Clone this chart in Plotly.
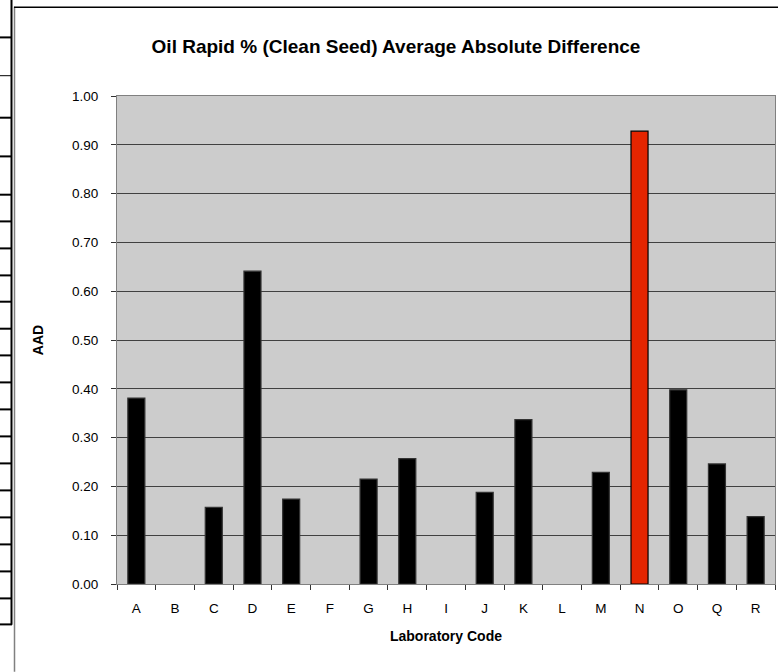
import plotly.graph_objects as go

# Laboratory codes and their average absolute difference
lab_codes = ["A", "B", "C", "D", "E", "F", "G", "H", "I", "J", "K", "L", "M", "N", "O", "Q", "R"]
aad_values = [0.381, 0.0, 0.157, 0.641, 0.174, 0.0, 0.215, 0.257, 0.0, 0.188, 0.337, 0.0, 0.229, 0.928, 0.398, 0.246, 0.138]
flagged_lab = "N"
y_ticks = [0.0, 0.1, 0.2, 0.3, 0.4, 0.5, 0.6, 0.7, 0.8, 0.9, 1.0]

W, H = 778, 672
PLOT_L, PLOT_R, PLOT_T, PLOT_B = 117, 775, 96.3, 584.3
FONT = "Arial, Liberation Sans, sans-serif"


def px_x(px):
    # pixel -> paper x
    return (px - PLOT_L) / (PLOT_R - PLOT_L)


def px_y(py):
    # pixel -> paper y
    return (PLOT_B - py) / (PLOT_B - PLOT_T)


bar_colors = ["#e52500" if c == flagged_lab else "#000000" for c in lab_codes]
line_colors = ["#000000" if c == flagged_lab else "#333333" for c in lab_codes]
line_widths = [0 if v == 0 else 1.2 for v in aad_values]

fig = go.Figure()
fig.add_trace(
    go.Bar(
        x=lab_codes,
        y=aad_values,
        marker=dict(color=bar_colors, line=dict(color=line_colors, width=line_widths)),
        showlegend=False,
    )
)

# worksheet table fragment on the far left and the chart frame
table_rows = [37.7, 76, 118, 156.7, 195, 221.7, 248.7, 275.7, 302, 329, 355.7,
              382.7, 409.7, 436.7, 463.7, 490.7, 517.7, 544.7, 571.7, 598.7, 624.7]
shapes = []
for ry in table_rows:
    shapes.append(dict(type="line", xref="paper", yref="paper",
                       x0=px_x(0), x1=px_x(12), y0=px_y(ry), y1=px_y(ry),
                       line=dict(color="black", width=1 if ry == 76 else 2)))
shapes.append(dict(type="line", xref="paper", yref="paper",
                   x0=px_x(11.5), x1=px_x(11.5), y0=px_y(0), y1=px_y(625),
                   line=dict(color="black", width=2)))
shapes.append(dict(type="line", xref="paper", yref="paper",
                   x0=px_x(14.5), x1=px_x(14.5), y0=px_y(7), y1=px_y(H),
                   line=dict(color="#808080", width=1.5)))
shapes.append(dict(type="line", xref="paper", yref="paper",
                   x0=px_x(14), x1=px_x(W), y0=px_y(7.5), y1=px_y(7.5),
                   line=dict(color="black", width=1.5)))

fig.update_layout(
    width=W,
    height=H,
    margin=dict(l=PLOT_L, r=W - PLOT_R, t=PLOT_T, b=H - PLOT_B, pad=0),
    paper_bgcolor="white",
    plot_bgcolor="#cccccc",
    bargap=0.56,
    font=dict(family=FONT, size=13.5, color="black"),
    title=dict(
        text="<b>Oil Rapid % (Clean Seed) Average Absolute Difference</b>",
        x=396 / W, xanchor="center", xref="container",
        y=1 - 46 / H, yanchor="middle", yref="container",
        font=dict(family=FONT, size=19, color="black"),
    ),
    shapes=shapes,
)

fig.update_xaxes(
    title=dict(text="<b>Laboratory Code</b>", standoff=15, font=dict(size=14)),
    showline=True, linecolor="#808080", linewidth=1, mirror=True,
    ticks="outside", tickson="boundaries", ticklen=5, tickcolor="#333333",
    ticklabelstandoff=12,
    showgrid=False,
)
fig.update_yaxes(
    title=dict(text="<b>AAD</b>", standoff=25, font=dict(size=14)),
    range=[0, 1.0],
    tickvals=y_ticks,
    ticktext=[f"{v:.2f}" for v in y_ticks],
    showline=True, linecolor="#808080", linewidth=1, mirror=True,
    ticks="outside", ticklen=5, tickcolor="#333333",
    ticklabelstandoff=10,
    showgrid=True, gridcolor="#404040", gridwidth=1,
    zeroline=False,
)

fig.write_html("out.html", post_script="document.body.style.margin='0';",
               config={"displayModeBar": False})
